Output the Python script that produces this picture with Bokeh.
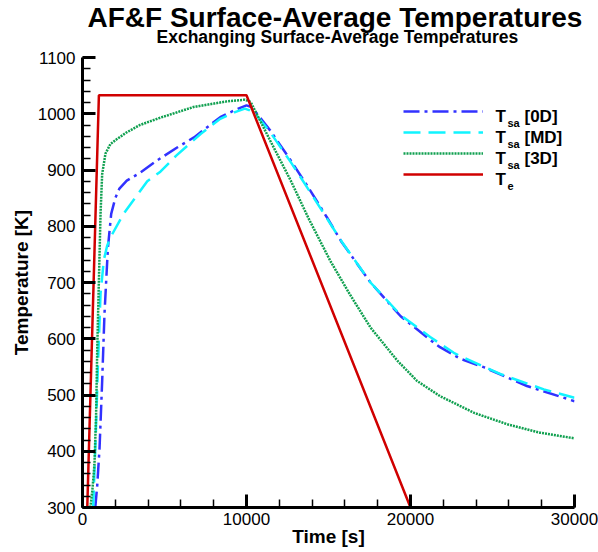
from bokeh.plotting import figure
from bokeh.models import (Title, Legend, LegendItem, Label, SingleIntervalTicker)
from bokeh.embed import file_html
from bokeh.resources import INLINE

# ---------------- data ----------------
t_0d = [780, 900, 1040, 1200, 1340, 1550, 1750, 2000, 2250, 2700, 3500, 4550,
        5770, 6800, 8400, 9400, 10000, 10300, 10650, 11450, 12700, 13900,
        14900, 15800, 17560, 19400, 21200, 21800, 23000, 24500, 27100, 30000]
T_0d = [300, 340, 406, 525, 644, 762, 822, 850, 867, 881, 895, 917,
        940, 958, 994, 1008, 1015, 1012, 1000, 970, 917, 863,
        816, 772, 700, 640, 598, 585, 565, 549, 516, 489]

t_md = [650, 800, 950, 1100, 1300, 1500, 1700, 2500, 3950, 4750, 5700, 7200,
        8400, 9300, 9900, 10200, 10650, 11450, 12700, 13900, 14900, 15800,
        17560, 19400, 21200, 22640, 23050, 25500, 28130, 30000]
T_md = [300, 420, 560, 680, 740, 765, 780, 822, 880, 897, 925, 964,
        991, 1003, 1009, 1006, 996, 967, 914, 860, 814, 773,
        700, 642, 603, 575, 569, 537, 510, 495]

t_3d = [480, 600, 730, 830, 900, 1000, 1100, 1200, 1400, 1700, 2100, 2700,
        3500, 4750, 6770, 8800, 9900, 10250, 11450, 12700, 13800, 15100,
        16300, 17560, 19200, 20400, 21800, 23900, 25900, 27900, 30000]
T_3d = [300, 330, 377, 466, 584, 703, 822, 893, 929, 946, 955, 967,
        980, 993, 1012, 1022, 1025, 1021, 952, 881, 813, 739,
        679, 620, 561, 525, 498, 468, 448, 433, 423]

t_e = [0, 1000, 10000, 20000, 30000]
T_e = [0, 1033, 1033, 300, 300]

title_text = "AF&F Surface-Average Temperatures"
subtitle_text = "Exchanging Surface-Average Temperatures"
legend_names = ["[0D]", "[MD]", "[3D]", ""]
legend_subs = ["sa", "sa", "sa", "e"]

FONT = "Liberation Sans"

# ---------------- figure ----------------
p = figure(frame_width=492, frame_height=450,
           x_range=(0, 30000), y_range=(300, 1100),
           output_backend="svg", toolbar_location=None,
           min_border_left=82, min_border_right=24,
           min_border_top=57, min_border_bottom=0,
           background_fill_color="white", border_fill_color="white")
p.outline_line_color = None
p.xgrid.visible = False
p.ygrid.visible = False

sub = Title(text=subtitle_text, align="left", offset=74,
            text_font=FONT, text_font_size="17.5px", text_font_style="bold",
            text_color="black", standoff=22)
main = Title(text=title_text, align="left", offset=5,
             text_font=FONT, text_font_size="28px", text_font_style="bold",
             text_color="black", standoff=-38)
p.add_layout(sub, "above")
p.add_layout(main, "above")

p.xaxis.ticker = SingleIntervalTicker(interval=10000, num_minor_ticks=5)
p.yaxis.ticker = SingleIntervalTicker(interval=100, num_minor_ticks=5)
p.xaxis.axis_label = "Time [s]"
p.yaxis.axis_label = "Temperature [K]"
for ax in (p.xaxis, p.yaxis):
    ax.axis_line_width = 3
    ax.axis_line_color = "black"
    ax.major_tick_in = 13
    ax.major_tick_out = 0
    ax.minor_tick_in = 8
    ax.minor_tick_out = 0
    ax.major_tick_line_width = 3
    ax.minor_tick_line_width = 1.5
    ax.major_tick_line_color = "black"
    ax.minor_tick_line_color = "black"
    ax.major_label_text_font = FONT
    ax.major_label_text_font_size = "17px"
    ax.major_label_text_color = "black"
    ax.axis_label_text_font = FONT
    ax.axis_label_text_font_size = "19px"
    ax.axis_label_text_font_style = "bold"
    ax.axis_label_text_color = "black"
p.xaxis.major_label_standoff = 5
p.xaxis.axis_label_standoff = -2
p.yaxis.major_label_standoff = 7
p.yaxis.axis_label_standoff = 3

r0 = p.line(t_0d, T_0d, line_color="#3232ff", line_width=2.5, line_dash="16 5 3 5")
r1 = p.line(t_md, T_md, line_color="#10f4ff", line_width=2.5, line_dash="17 8")
r2 = p.line(t_3d, T_3d, line_color="#10a050", line_width=2.5, line_dash="2 1")
r3 = p.line(t_e, T_e, line_color="#d00000", line_width=2.5)

legend = Legend(items=[LegendItem(label=" ", renderers=[r]) for r in (r0, r1, r2, r3)],
                location=(321, 323), padding=0, margin=0, spacing=1,
                glyph_width=80, glyph_height=20, label_height=20, label_width=0,
                label_standoff=0, border_line_color=None, background_fill_alpha=0,
                label_text_font_size="1px")
p.add_layout(legend, "center")

# legend texts (T + subscript + bracket), anchored in data space
LEG_X = 25183
LEG_Y0 = 995
for i, (nm, sb) in enumerate(zip(legend_names, legend_subs)):
    dy = -21 * i
    p.add_layout(Label(x=LEG_X, y=LEG_Y0, y_offset=dy, text="T",
                       text_font=FONT, text_font_size="17px", text_font_style="bold",
                       text_color="black", text_baseline="alphabetic"))
    p.add_layout(Label(x=LEG_X, y=LEG_Y0, x_offset=12, y_offset=dy - 6, text=sb,
                       text_font=FONT, text_font_size="11px", text_font_style="bold",
                       text_color="black", text_baseline="alphabetic"))
    if nm:
        p.add_layout(Label(x=LEG_X, y=LEG_Y0, x_offset=29, y_offset=dy, text=nm,
                           text_font=FONT, text_font_size="17px", text_font_style="bold",
                           text_color="black", text_baseline="alphabetic"))

open("out.html", "w").write(file_html(p, INLINE))
